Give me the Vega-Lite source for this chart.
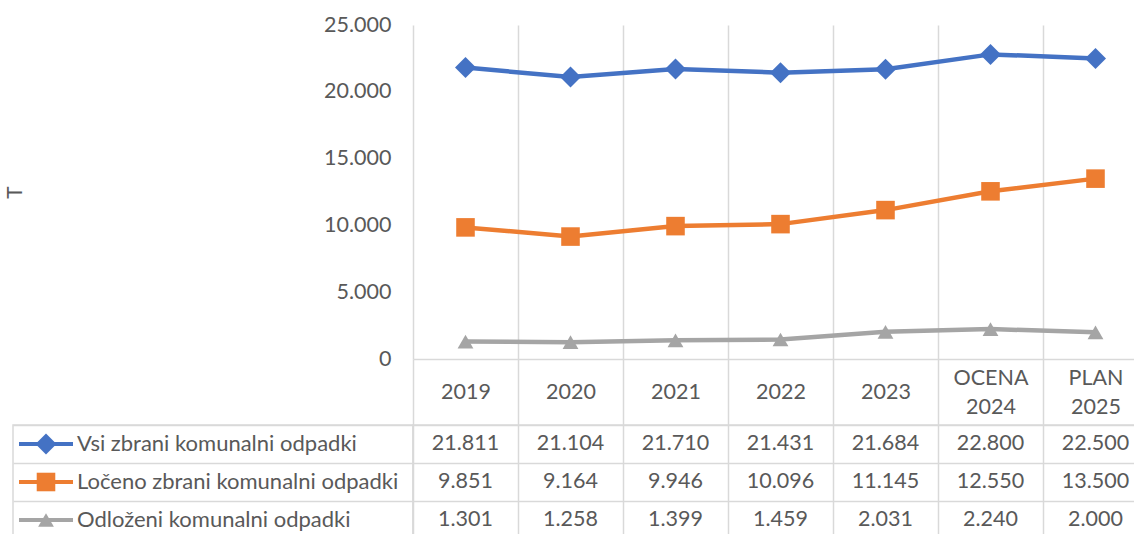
{
  "$schema": "https://vega.github.io/schema/vega-lite/v6.json",
  "padding": {"left": 4, "top": 14, "right": 0, "bottom": 0},
  "background": "white",
  "columns": 2,
  "spacing": {"row": 66, "column": 0},
  "bounds": "flush",
  "config": {
    "locale": {"number": {"decimal": ",", "thousands": ".", "grouping": [3], "currency": ["", " €"]}},
    "font": "Lato",
    "view": {"stroke": null},
    "axis": {"labelFont": "Lato", "titleFont": "Lato", "labelColor": "#595959", "titleColor": "#595959", "labelFontSize": 21.5, "titleFontSize": 21, "titleFontWeight": "normal", "gridColor": "#d9d9d9", "gridWidth": 1.5, "gridOpacity": 1}
  },
  "datasets": {
    "waste": [
      {"year": "2019", "series": "Vsi zbrani komunalni odpadki", "value": 21811},
      {"year": "2020", "series": "Vsi zbrani komunalni odpadki", "value": 21104},
      {"year": "2021", "series": "Vsi zbrani komunalni odpadki", "value": 21710},
      {"year": "2022", "series": "Vsi zbrani komunalni odpadki", "value": 21431},
      {"year": "2023", "series": "Vsi zbrani komunalni odpadki", "value": 21684},
      {"year": "OCENA 2024", "series": "Vsi zbrani komunalni odpadki", "value": 22800},
      {"year": "PLAN 2025", "series": "Vsi zbrani komunalni odpadki", "value": 22500},
      {"year": "2019", "series": "Ločeno zbrani komunalni odpadki", "value": 9851},
      {"year": "2020", "series": "Ločeno zbrani komunalni odpadki", "value": 9164},
      {"year": "2021", "series": "Ločeno zbrani komunalni odpadki", "value": 9946},
      {"year": "2022", "series": "Ločeno zbrani komunalni odpadki", "value": 10096},
      {"year": "2023", "series": "Ločeno zbrani komunalni odpadki", "value": 11145},
      {"year": "OCENA 2024", "series": "Ločeno zbrani komunalni odpadki", "value": 12550},
      {"year": "PLAN 2025", "series": "Ločeno zbrani komunalni odpadki", "value": 13500},
      {"year": "2019", "series": "Odloženi komunalni odpadki", "value": 1301},
      {"year": "2020", "series": "Odloženi komunalni odpadki", "value": 1258},
      {"year": "2021", "series": "Odloženi komunalni odpadki", "value": 1399},
      {"year": "2022", "series": "Odloženi komunalni odpadki", "value": 1459},
      {"year": "2023", "series": "Odloženi komunalni odpadki", "value": 2031},
      {"year": "OCENA 2024", "series": "Odloženi komunalni odpadki", "value": 2240},
      {"year": "PLAN 2025", "series": "Odloženi komunalni odpadki", "value": 2000}
    ],
    "names": [
      {"series": "Vsi zbrani komunalni odpadki"},
      {"series": "Ločeno zbrani komunalni odpadki"},
      {"series": "Odloženi komunalni odpadki"}
    ]
  },
  "concat": [
    {
      "data": {"values": []},
      "mark": "point",
      "width": 400,
      "height": 334
    },
    {
      "data": {"name": "waste"},
      "width": 735,
      "height": 334,
      "encoding": {
        "x": {
          "field": "year", "type": "nominal",
          "scale": {"type": "band", "paddingInner": 0, "paddingOuter": 0, "domain": ["2019", "2020", "2021", "2022", "2023", "OCENA 2024", "PLAN 2025"]},
          "axis": {"title": null, "labelAngle": 0, "labelExpr": "split(datum.label, ' ')", "labelBaseline": "middle", "labelPadding": {"condition": {"test": "datum.value == 'OCENA 2024' || datum.value == 'PLAN 2025'", "value": -47}, "value": -33}, "labelLineHeight": 29, "tickBand": "extent", "ticks": true, "tickSize": 66, "tickColor": "#d9d9d9", "tickWidth": 1.5, "domain": true, "domainColor": "#d9d9d9", "domainWidth": 1.5, "grid": true}
        },
        "y": {
          "field": "value", "type": "quantitative",
          "scale": {"domain": [0, 25000], "nice": false},
          "axis": {"title": "T", "titleAngle": -90, "titleX": -388, "titleY": 167, "titleAlign": "center", "titleBaseline": "bottom", "values": [0, 5000, 10000, 15000, 20000, 25000], "format": ",d", "grid": false, "ticks": false, "domain": false, "labelPadding": 22}
        },
        "color": {
          "field": "series", "type": "nominal",
          "scale": {"domain": ["Vsi zbrani komunalni odpadki", "Ločeno zbrani komunalni odpadki", "Odloženi komunalni odpadki"], "range": ["#4472C4", "#ED7D31", "#A5A5A5"]},
          "legend": null
        }
      },
      "layer": [
        {"mark": {"type": "line", "strokeWidth": 4.5}},
        {
          "mark": {"type": "point", "filled": true, "opacity": 1},
          "encoding": {
            "shape": {"field": "series", "type": "nominal", "scale": {"domain": ["Vsi zbrani komunalni odpadki", "Ločeno zbrani komunalni odpadki", "Odloženi komunalni odpadki"], "range": ["diamond", "square", "triangle-up"]}, "legend": null},
            "size": {"field": "series", "type": "nominal", "scale": {"domain": ["Vsi zbrani komunalni odpadki", "Ločeno zbrani komunalni odpadki", "Odloženi komunalni odpadki"], "range": [440, 250, 420]}, "legend": null}
          }
        }
      ]
    },
    {
      "data": {"name": "names"},
      "width": 400,
      "height": 114,
      "view": {"stroke": "#d9d9d9", "strokeWidth": 1.5},
      "encoding": {
        "y": {
          "field": "series", "type": "nominal",
          "scale": {"type": "band", "paddingInner": 0, "paddingOuter": 0, "domain": ["Vsi zbrani komunalni odpadki", "Ločeno zbrani komunalni odpadki", "Odloženi komunalni odpadki"]},
          "axis": {"title": null, "labels": false, "ticks": false, "domain": false, "grid": true, "tickBand": "extent"}
        },
        "color": {
          "field": "series", "type": "nominal",
          "scale": {"domain": ["Vsi zbrani komunalni odpadki", "Ločeno zbrani komunalni odpadki", "Odloženi komunalni odpadki"], "range": ["#4472C4", "#ED7D31", "#A5A5A5"]},
          "legend": null
        }
      },
      "layer": [
        {
          "mark": {"type": "rule", "strokeWidth": 4},
          "encoding": {
            "x": {"datum": 6, "type": "quantitative", "scale": {"domain": [0, 400]}, "axis": null},
            "x2": {"datum": 60}
          }
        },
        {
          "mark": {"type": "point", "filled": true, "opacity": 1},
          "encoding": {
            "x": {"datum": 33, "type": "quantitative", "scale": {"domain": [0, 400]}, "axis": null},
            "shape": {"field": "series", "type": "nominal", "scale": {"domain": ["Vsi zbrani komunalni odpadki", "Ločeno zbrani komunalni odpadki", "Odloženi komunalni odpadki"], "range": ["diamond", "square", "triangle-up"]}, "legend": null},
            "size": {"field": "series", "type": "nominal", "scale": {"domain": ["Vsi zbrani komunalni odpadki", "Ločeno zbrani komunalni odpadki", "Odloženi komunalni odpadki"], "range": [170, 180, 190]}, "legend": null}
          }
        },
        {
          "mark": {"type": "text", "align": "left", "baseline": "middle", "fontSize": 22, "font": "Lato"},
          "encoding": {
            "x": {"datum": 64, "type": "quantitative", "scale": {"domain": [0, 400]}, "axis": null},
            "text": {"field": "series"},
            "color": {"value": "#595959"}
          }
        }
      ]
    },
    {
      "data": {"name": "waste"},
      "width": 735,
      "height": 114,
      "view": {"stroke": "#d9d9d9", "strokeWidth": 1.5},
      "mark": {"type": "text", "align": "center", "baseline": "middle", "fontSize": 21.5, "color": "#595959", "font": "Lato"},
      "encoding": {
        "x": {
          "field": "year", "type": "nominal",
          "scale": {"type": "band", "paddingInner": 0, "paddingOuter": 0, "domain": ["2019", "2020", "2021", "2022", "2023", "OCENA 2024", "PLAN 2025"]},
          "axis": {"title": null, "labels": false, "ticks": false, "domain": false, "grid": true, "tickBand": "extent"}
        },
        "y": {
          "field": "series", "type": "nominal",
          "scale": {"type": "band", "paddingInner": 0, "paddingOuter": 0, "domain": ["Vsi zbrani komunalni odpadki", "Ločeno zbrani komunalni odpadki", "Odloženi komunalni odpadki"]},
          "axis": {"title": null, "labels": false, "ticks": false, "domain": false, "grid": true, "tickBand": "extent"}
        },
        "text": {"field": "value", "type": "quantitative", "format": ",d"}
      }
    }
  ]
}
